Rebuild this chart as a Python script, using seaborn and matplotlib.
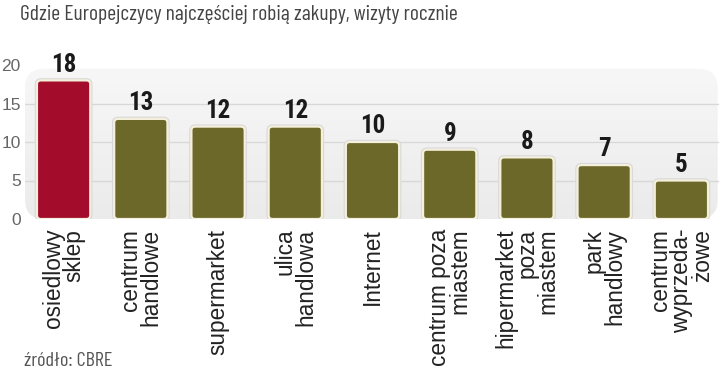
import numpy as np
import pandas as pd
import seaborn as sns
import matplotlib.pyplot as plt
from matplotlib.patches import FancyBboxPatch
import matplotlib.patheffects as pe

# data
categories = ["osiedlowy\nsklep", "centrum\nhandlowe", "supermarket", "ulica\nhandlowa",
              "Internet", "centrum poza\nmiastem", "hipermarket\npoza\nmiastem",
              "park\nhandlowy", "centrum\nwyprzeda-\nżowe"]
visits = [18, 13, 12, 12, 10, 9, 8, 7, 5]
bar_colors = ["#a30d2b"] + ["#6b682a"] * 8
yticks = [0, 5, 10, 15, 20]

title = "Gdzie Europejczycy najczęściej robią zakupy, wizyty rocznie"
source = "źródło: CBRE"

narrow = ["Barlow Condensed", "Fira Sans Extra Condensed", "Roboto Condensed", "DejaVu Sans"]
bold_narrow = ["Roboto Condensed", "Oswald", "Archivo Narrow", "DejaVu Sans"]

df = pd.DataFrame({"cat": categories, "val": visits})

sns.set_style("white")
plt.rcParams['font.family'] = ['Liberation Sans', 'Arimo', 'DejaVu Sans']

fig = plt.figure(figsize=(7.2, 3.7), dpi=100)
ax = fig.add_axes([25/720, (370-219)/370, 695/720, 154/370])

sns.barplot(data=df, x="cat", y="val", hue="cat", palette=bar_colors,
            saturation=1, legend=False, width=0.69, ax=ax, zorder=3)

ax.set_xlim(-0.5, 8.5)
ax.set_ylim(0, 20)

# px per unit -> aspect for rounded corners
asp = (20/154) / (9/695)

# gray rounded panel with a soft gradient
panel = FancyBboxPatch((-0.5, 0), 8.97, 19.5,
                       boxstyle="round,pad=0,rounding_size=0.25",
                       mutation_aspect=asp, facecolor="none", edgecolor="none",
                       zorder=0)
ax.add_patch(panel)
grad = np.linspace(0, 1, 100).reshape(-1, 1)
im = ax.imshow(grad, extent=(-0.5, 8.47, 0, 19.5), origin="lower", aspect="auto",
               cmap=sns.blend_palette(["#ebebeb", "#f7f7f7"], as_cmap=True),
               zorder=0)
im.set_clip_path(panel)

for yv in yticks[1:-1]:
    ax.plot([-0.5, 8.47], [yv, yv], color="#d8d8d8", lw=1, zorder=1)

# rounded bars with cream edge
for p in list(ax.patches):
    if not isinstance(p, plt.Rectangle):
        continue
    x, y, w, h = p.get_x(), p.get_y(), p.get_width(), p.get_height()
    fc = p.get_facecolor()
    p.remove()
    rb = FancyBboxPatch((x, y), w, h, boxstyle="round,pad=0,rounding_size=0.05",
                        mutation_aspect=asp, facecolor=fc, edgecolor="#f5f0dc",
                        linewidth=1.6, zorder=3)
    rb.set_path_effects([pe.withStroke(linewidth=3.2, foreground="#d9d9d9")])
    ax.add_patch(rb)

for i, v in enumerate(visits):
    ax.text(i, v + 0.5, str(v), ha="center", va="bottom", fontsize=18,
            fontweight="bold", family=bold_narrow, color="#1a1a1a", zorder=4)

ax.set_yticks(yticks)
ax.set_yticklabels([str(t) for t in yticks], fontsize=12.5, color="#666666")
ax.set_xticks(range(len(categories)))
ax.set_xticklabels(categories, rotation=90, fontsize=16.3, color="#222222",
                   ha="center", va="top", multialignment="right", linespacing=0.88)
ax.tick_params(axis="both", length=0)
ax.tick_params(axis="x", pad=7)
ax.tick_params(axis="y", pad=3)
ax.set_xlabel("")
ax.set_ylabel("")
sns.despine(ax=ax, left=True, bottom=True)

fig.text(20/720, 1 - 15/370, title, fontsize=15.5, color="#444444", va="center",
         family=narrow)
fig.text(24/720, 1 - 361/370, source, fontsize=14.5, color="#555555", va="center",
         family=narrow)

fig.savefig("out.png", dpi=100)
